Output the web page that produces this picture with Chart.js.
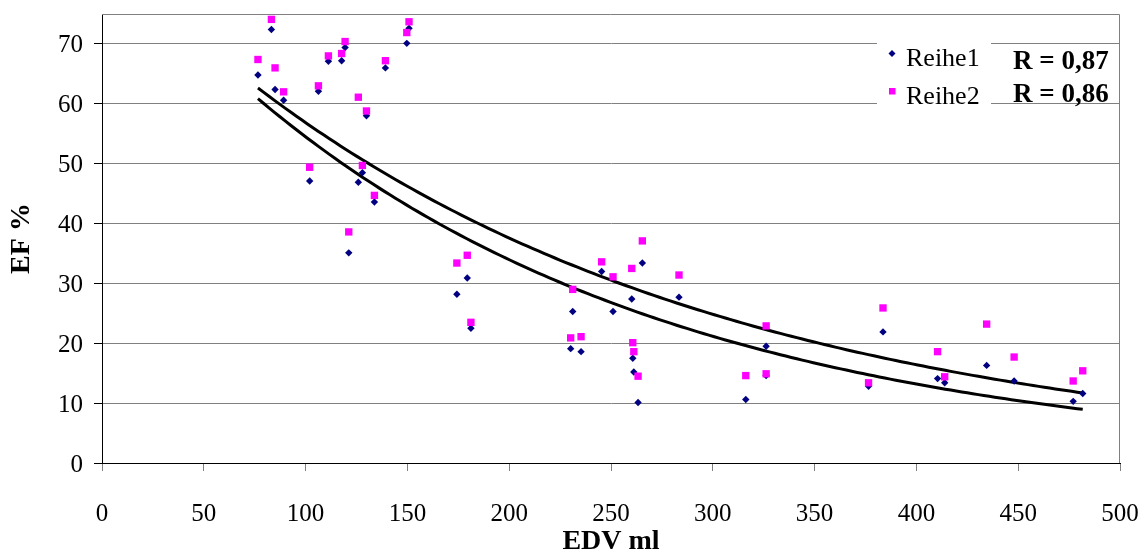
<!DOCTYPE html>
<html><head><meta charset="utf-8">
<script src="https://cdn.jsdelivr.net/npm/chart.js@4.4.1/dist/chart.umd.min.js"></script>
<style>html,body{margin:0;padding:0;background:#fff;}canvas{display:block;}</style>
</head><body>
<canvas id="c" width="1145" height="554"></canvas>
<script>
// ---- data ----
const edv = [76.6, 83.2, 85.0, 89.2, 102.0, 106.3, 111.2, 117.7, 119.4, 121.2, 125.9, 127.9, 129.9, 133.8, 139.2, 149.7, 150.8,
             174.3, 179.4, 181.2, 230.2, 231.2, 235.3, 245.4, 251.0, 260.2, 260.7, 261.2, 263.3, 265.4, 283.4,
             316.2, 326.2, 326.2, 376.5, 383.6, 410.4, 413.9, 434.5, 448.0, 477.0, 481.7];
const reihe1 = [64.8, 72.4, 62.4, 60.6, 47.1, 62.1, 67.1, 67.2, 69.4, 35.1, 46.9, 48.5, 58.0, 43.6, 66.0, 70.1, 72.6,
                28.2, 30.9, 22.5, 19.1, 25.3, 18.6, 32.0, 25.3, 27.4, 17.5, 15.2, 10.1, 33.4, 27.7,
                10.6, 19.5, 14.6, 12.8, 21.9, 14.1, 13.4, 16.3, 13.7, 10.3, 11.6];
const reihe2 = [67.4, 74.1, 66.0, 62.0, 49.4, 63.0, 68.0, 68.4, 70.4, 38.6, 61.1, 49.7, 58.8, 44.7, 67.2, 71.9, 73.7,
                33.4, 34.7, 23.5, 20.9, 29.0, 21.1, 33.6, 31.1, 32.5, 20.1, 18.6, 14.5, 37.1, 31.4,
                14.6, 22.9, 14.9, 13.4, 25.9, 18.6, 14.4, 23.2, 17.7, 13.7, 15.4];
const seriesNames = ['Reihe1', 'Reihe2'];
const rLabels = ['R = 0,87', 'R = 0,86'];
const xTickValues = [0, 50, 100, 150, 200, 250, 300, 350, 400, 450, 500];
const yTickValues = [0, 10, 20, 30, 40, 50, 60, 70];
const xTitle = 'EDV ml';
const yTitle = 'EF %';

const NAVY = '#000080', MAGENTA = '#FF00FF', GRID = '#808080';
const FONT = '"Liberation Serif", "Times New Roman", serif';

// exponential least-squares trend (as a spreadsheet exponential trendline)
function expFit(xa, ya) {
  const n = xa.length; let sx = 0, sy = 0, sxx = 0, sxy = 0;
  for (let i = 0; i < n; i++) { const l = Math.log(ya[i]); sx += xa[i]; sy += l; sxx += xa[i] * xa[i]; sxy += xa[i] * l; }
  const b = (n * sxy - sx * sy) / (n * sxx - sx * sx);
  const a = Math.exp((sy - b * sx) / n);
  return { a, b };
}
function trendPoints(xa, ya) {
  const f = expFit(xa, ya);
  const lo = Math.min(...xa), hi = Math.max(...xa), pts = [];
  for (let i = 0; i <= 150; i++) { const x = lo + (hi - lo) * i / 150; pts.push({ x, y: f.a * Math.exp(f.b * x) }); }
  return pts;
}
const pts = ys => edv.map((x, i) => ({ x, y: ys[i] }));
const noPad = s => { s.paddingTop = 0; s.paddingBottom = 0; s.paddingLeft = 0; s.paddingRight = 0; };

const legendPlugin = {
  id: 'frameAndLegend',
  beforeDatasetsDraw(chart) {
    const { ctx, chartArea: a } = chart;
    ctx.save();
    ctx.strokeStyle = GRID; ctx.lineWidth = 1;
    ctx.beginPath();
    ctx.moveTo(a.left, a.top + 0.5);
    ctx.lineTo(a.right - 0.5, a.top + 0.5);
    ctx.lineTo(a.right - 0.5, a.bottom);
    ctx.stroke();
    ctx.restore();
  },
  afterDatasetsDraw(chart) {
    const { ctx } = chart;
    ctx.save();
    ctx.fillStyle = '#fff';
    ctx.fillRect(877, 36, 114, 76);
    // markers
    ctx.fillStyle = NAVY;
    ctx.beginPath();
    ctx.moveTo(892, 50); ctx.lineTo(895.5, 53.5); ctx.lineTo(892, 57); ctx.lineTo(888.5, 53.5); ctx.closePath(); ctx.fill();
    ctx.fillStyle = MAGENTA;
    ctx.fillRect(889, 88, 6.5, 6.5);
    ctx.fillStyle = '#000';
    ctx.textAlign = 'left'; ctx.textBaseline = 'alphabetic';
    ctx.font = '26px ' + FONT;
    ctx.fillText(seriesNames[0], 906, 66);
    ctx.fillText(seriesNames[1], 906, 104);
    ctx.font = 'bold 27px ' + FONT;
    ctx.fillText(rLabels[0], 1013, 69);
    ctx.fillText(rLabels[1], 1013, 102);
    ctx.restore();
  }
};

new Chart(document.getElementById('c'), {
  type: 'scatter',
  data: {
    datasets: [
      { label: seriesNames[1], data: pts(reihe2), order: 0, pointStyle: 'rect', pointRadius: 5.2,
        backgroundColor: MAGENTA, borderColor: MAGENTA, borderWidth: 0 },
      { label: seriesNames[0], data: pts(reihe1), order: 1, pointStyle: 'rectRot', pointRadius: 3.7,
        backgroundColor: NAVY, borderColor: NAVY, borderWidth: 0 },
      { label: 'trend1', data: trendPoints(edv, reihe1), order: 2, showLine: true, pointRadius: 0,
        borderColor: '#000', borderWidth: 3, tension: 0, fill: false },
      { label: 'trend2', data: trendPoints(edv, reihe2), order: 2, showLine: true, pointRadius: 0,
        borderColor: '#000', borderWidth: 3, tension: 0, fill: false }
    ]
  },
  options: {
    responsive: false, animation: false, events: [],
    layout: { padding: { top: 14, right: 25, left: 0, bottom: 0 } },
    plugins: { legend: { display: false }, tooltip: { enabled: false } },
    scales: {
      x: {
        type: 'linear', min: 0, max: 500,
        afterBuildTicks: s => { s.ticks = xTickValues.map(v => ({ value: v })); },
        afterFit: s => { s.height = 91; noPad(s); },
        grid: { drawOnChartArea: false, drawTicks: true, tickLength: 8, tickColor: GRID },
        border: { color: '#000', width: 1 },
        ticks: { color: '#000', font: { family: FONT, size: 25 }, padding: 28, maxRotation: 0, autoSkip: false },
        title: { display: true, text: xTitle, color: '#000', font: { family: FONT, size: 28, weight: 'bold', lineHeight: 0.9 }, padding: { top: 0, bottom: 0 } }
      },
      y: {
        type: 'linear', min: 0, max: 75,
        afterBuildTicks: s => { s.ticks = yTickValues.map(v => ({ value: v })); },
        afterFit: s => { s.width = 102; noPad(s); },
        grid: { color: c => (c.tick && c.tick.value === 0 ? '#000' : GRID), drawTicks: true, tickLength: 8, tickColor: '#000' },
        border: { color: '#000', width: 1 },
        ticks: { color: '#000', font: { family: FONT, size: 25 }, padding: 11, labelOffset: 2 },
        title: { display: true, text: yTitle, color: '#000', font: { family: FONT, size: 28, weight: 'bold', lineHeight: 1 }, padding: { top: 8, bottom: 0 } }
      }
    }
  },
  plugins: [legendPlugin]
});
</script>
</body></html>
